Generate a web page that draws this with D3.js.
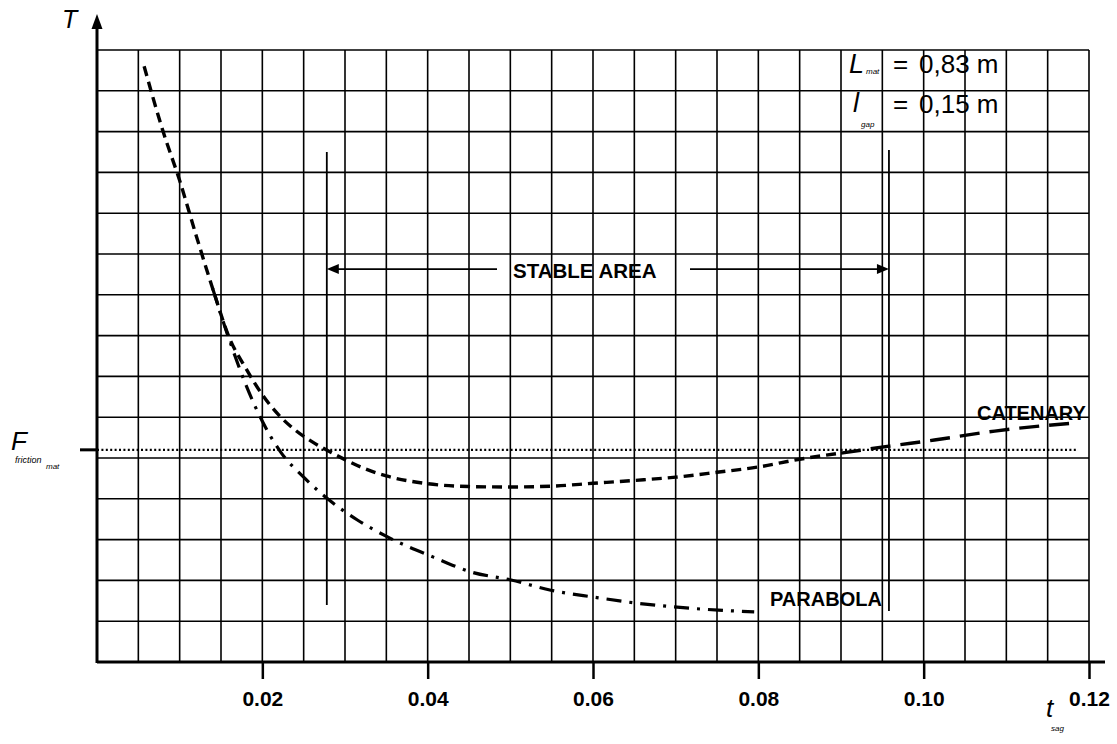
<!DOCTYPE html>
<html>
<head>
<meta charset="utf-8">
<script src="https://cdn.jsdelivr.net/npm/d3@7"></script>
<style>
body { margin: 0; background: #fff; }
svg { display: block; font-family: Arial, "Liberation Sans", sans-serif; }
</style>
</head>
<body>
<svg width="1117" height="744"></svg>
<script>
// sag t (x) and tension T in grid units (y)
var catenaryT = [0.0057, 0.008, 0.010, 0.012, 0.014, 0.016, 0.018, 0.020, 0.022, 0.024, 0.026, 0.028, 0.030, 0.032, 0.035, 0.040, 0.045, 0.050, 0.055, 0.060, 0.065, 0.070, 0.075, 0.080, 0.085, 0.090, 0.0958, 0.1013, 0.1086, 0.1155, 0.1185];
var catenaryY = [14.6, 13.0, 11.8, 10.45, 9.15, 7.95, 7.2, 6.55, 6.05, 5.68, 5.4, 5.17, 4.96, 4.77, 4.56, 4.37, 4.3, 4.29, 4.31, 4.38, 4.45, 4.53, 4.65, 4.78, 4.97, 5.12, 5.29, 5.44, 5.66, 5.81, 5.86];
var parabolaT = [0.014, 0.016, 0.018, 0.020, 0.0222, 0.025, 0.0279, 0.0315, 0.0352, 0.0407, 0.0452, 0.0501, 0.0549, 0.0601, 0.0650, 0.0698, 0.0752, 0.0795];
var parabolaY = [9.15, 7.9, 6.8, 5.9, 5.15, 4.53, 4.00, 3.48, 3.06, 2.57, 2.21, 2.01, 1.76, 1.59, 1.45, 1.35, 1.27, 1.23];
var tickLabels = [0.02, 0.04, 0.06, 0.08, 0.10, 0.12];
var fFriction = 5.2;
var fEnd = 0.1185;
var stableLeft = 0.0278, stableRight = 0.0958;
var stableArrowY = 9.63;

var svg = d3.select("svg");
var x = d3.scaleLinear().domain([0, 0.12]).range([97, 1089]);
var y = d3.scaleLinear().domain([0, 15]).range([662, 50]);

// grid
var g = svg.append("g");
g.selectAll(".vg")
	.data(d3.range(1, 25).map(i => i * 0.005))
	.enter().append("line")
	.attr("x1", d => x(d)).attr("x2", d => x(d))
	.attr("y1", y(0)).attr("y2", y(15))
	.attr("stroke", "#000").attr("stroke-width", 1.6);
g.selectAll(".hg")
	.data(d3.range(1, 16))
	.enter().append("line")
	.attr("x1", x(0)).attr("x2", x(0.12))
	.attr("y1", d => y(d)).attr("y2", d => y(d))
	.attr("stroke", "#000").attr("stroke-width", 1.6);

// x axis
var xAxis = d3.axisBottom(x)
	.tickValues(tickLabels)
	.tickSize(17)
	.tickPadding(12)
	.tickFormat(d3.format(".2f"));
var ax = svg.append("g")
	.attr("transform", "translate(0," + y(0) + ")")
	.call(xAxis);
ax.select(".domain").remove();
ax.selectAll("line").attr("stroke", "#000").attr("stroke-width", 2.5);
ax.selectAll("text")
	.attr("fill", "#000")
	.style("font-size", "21px")
	.style("font-weight", "bold")
	.style("font-family", "Arial, 'Liberation Sans', sans-serif");

svg.append("line")
	.attr("x1", x(0)).attr("x2", 1105)
	.attr("y1", y(0)).attr("y2", y(0))
	.attr("stroke", "#000").attr("stroke-width", 3);

// y axis with arrow
svg.append("line")
	.attr("x1", x(0)).attr("x2", x(0))
	.attr("y1", y(0) + 1).attr("y2", 26)
	.attr("stroke", "#000").attr("stroke-width", 3);
svg.append("path")
	.attr("d", "M97,14 L91.5,29 L102.5,29 Z")
	.attr("fill", "#000");

// F friction tick + dotted line
svg.append("line")
	.attr("x1", 80).attr("x2", x(0))
	.attr("y1", y(fFriction)).attr("y2", y(fFriction))
	.attr("stroke", "#000").attr("stroke-width", 3);
svg.append("line")
	.attr("x1", x(0)).attr("x2", x(fEnd))
	.attr("y1", y(fFriction)).attr("y2", y(fFriction))
	.attr("stroke", "#000").attr("stroke-width", 2.4)
	.attr("stroke-dasharray", "2,2.4");

// curves
var line = d3.line()
	.x(d => x(d[0]))
	.y(d => y(d[1]))
	.curve(d3.curveMonotoneX);

var catenary = catenaryT.map((t, i) => [t, catenaryY[i]]);
var parabola = parabolaT.map((t, i) => [t, parabolaY[i]]);

svg.append("path")
	.datum(catenary.filter(d => d[0] <= 0.09))
	.attr("d", line)
	.attr("fill", "none").attr("stroke", "#000")
	.attr("stroke-width", 3.4)
	.attr("stroke-dasharray", "10,6");
svg.append("path")
	.datum(catenary.filter(d => d[0] >= 0.09))
	.attr("d", line)
	.attr("fill", "none").attr("stroke", "#000")
	.attr("stroke-width", 3.4)
	.attr("stroke-dasharray", "20,10");
svg.append("path")
	.datum(parabola)
	.attr("d", line)
	.attr("fill", "none").attr("stroke", "#000")
	.attr("stroke-width", 3.2)
	.attr("stroke-dasharray", "15,8,3,8");

// stable area limits
svg.append("line")
	.attr("x1", x(stableLeft)).attr("x2", x(stableLeft))
	.attr("y1", y(12.5)).attr("y2", y(1.4))
	.attr("stroke", "#000").attr("stroke-width", 1.8);
svg.append("line")
	.attr("x1", x(stableRight)).attr("x2", x(stableRight))
	.attr("y1", y(12.55)).attr("y2", y(1.25))
	.attr("stroke", "#000").attr("stroke-width", 1.8);

var ay = y(stableArrowY);
svg.append("line")
	.attr("x1", x(stableLeft) + 8).attr("x2", 497)
	.attr("y1", ay).attr("y2", ay)
	.attr("stroke", "#000").attr("stroke-width", 1.6);
svg.append("path")
	.attr("d", "M" + x(stableLeft) + "," + ay + " l12,-5 l0,10 Z")
	.attr("fill", "#000");
svg.append("line")
	.attr("x1", 690).attr("x2", x(stableRight) - 8)
	.attr("y1", ay).attr("y2", ay)
	.attr("stroke", "#000").attr("stroke-width", 1.6);
svg.append("path")
	.attr("d", "M" + x(stableRight) + "," + ay + " l-12,-5 l0,10 Z")
	.attr("fill", "#000");

// labels
function txt(tx, ty, s, size, opts) {
	opts = opts || {};
	return svg.append("text")
		.attr("x", tx).attr("y", ty)
		.style("font-size", size + "px")
		.style("font-style", opts.italic ? "italic" : "normal")
		.style("font-weight", opts.bold ? "bold" : "normal")
		.attr("fill", "#000")
		.text(s);
}

txt(513, 278, "STABLE AREA", 20.5, {bold: true});
txt(977, 420, "CATENARY", 20, {bold: true});
txt(770, 606, "PARABOLA", 20, {bold: true});

txt(62, 28, "T", 25, {italic: true});
txt(11, 450, "F", 26, {italic: true});
txt(15, 463, "friction", 9, {italic: true});
txt(46, 469, "mat", 8, {italic: true});

txt(1046, 717, "t", 26, {italic: true});
txt(1051, 731, "sag", 8, {italic: true});

txt(849, 73, "L", 27, {italic: true});
txt(866, 74, "mat", 8, {italic: true});
txt(893, 73, "=", 26);
txt(919, 73, "0,83 m", 26);

txt(853, 112, "l", 27, {italic: true});
txt(861, 127, "gap", 8, {italic: true});
txt(893, 113, "=", 26);
txt(919, 113, "0,15 m", 26);
</script>
</body>
</html>
